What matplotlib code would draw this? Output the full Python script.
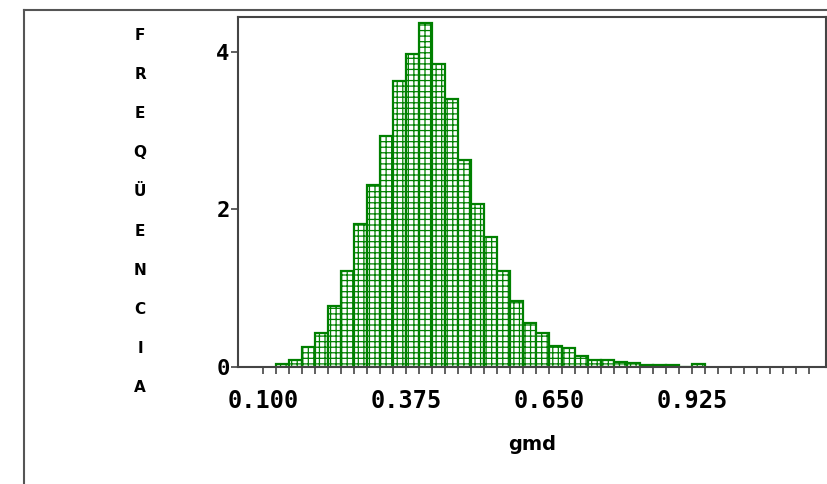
import matplotlib
matplotlib.use('Agg')
import matplotlib.pyplot as plt
from matplotlib.lines import Line2D
import numpy as np

# bin edges (width 0.025) and density of each bin
bin_start = 0.125
bin_width = 0.025
heights = [0.04, 0.09, 0.25, 0.43, 0.77, 1.22, 1.82, 2.31, 2.93, 3.63, 3.97,
           4.36, 3.85, 3.40, 2.62, 2.07, 1.65, 1.22, 0.84, 0.56, 0.43, 0.27,
           0.24, 0.14, 0.09, 0.09, 0.06, 0.05, 0.03, 0.03, 0.03, 0.0, 0.04]
x_labels = ['0.100', '0.375', '0.650', '0.925']
x_label_vals = [0.100, 0.375, 0.650, 0.925]
y_ticks = [0, 2, 4]
ylabel_text = 'FREQÜENCIA'

plt.rcParams['hatch.linewidth'] = 0.9
plt.rcParams['hatch.color'] = '#1a9a1a'

fig = plt.figure(figsize=(8.27, 4.84), dpi=100)
ax = fig.add_axes([0.2878, 0.2417, 0.7110, 0.7232])

lefts = bin_start + bin_width * np.arange(len(heights))
ax.bar(lefts, heights, width=bin_width, align='edge', color='white',
       edgecolor='#008000', linewidth=1.6, hatch='+++')

ax.set_xlim(0.0519, 1.183)
ax.set_ylim(0, 4.44)

# minor ticks at every bin edge, labelled ticks every 0.275
ax.set_xticks(np.arange(0.1, 1.17, 0.025), minor=True)
ax.set_xticks(x_label_vals)
ax.set_xticklabels(x_labels, family='DejaVu Sans Mono', fontweight='bold', fontsize=17)
ax.tick_params(axis='x', which='both', direction='out', length=5, width=1.2,
               color='#444444', pad=11)
ax.set_yticks(y_ticks)
ax.set_yticklabels([str(v) for v in y_ticks], family='DejaVu Sans Mono',
                   fontweight='bold', fontsize=16)
ax.tick_params(axis='y', direction='out', length=5, width=1.2, color='#444444', pad=1)

for sp in ax.spines.values():
    sp.set_color('#444444')
    sp.set_linewidth(1.5)

ax.set_xlabel('gmd', fontsize=14, fontweight='bold', labelpad=16)

# stacked vertical label
for i, ch in enumerate(ylabel_text):
    fig.text(140 / 827, 1 - (35 + i * 39.2) / 484, ch, ha='center', va='center',
             fontsize=11, fontweight='heavy', family='DejaVu Sans')

# outer frame lines
fig.add_artist(Line2D([24 / 827, 24 / 827], [0, 1 - 10 / 484], color='#555555', lw=1.5))
fig.add_artist(Line2D([24 / 827, 1], [1 - 10 / 484, 1 - 10 / 484], color='#555555', lw=1.5))

plt.savefig('out.png', dpi=100)
